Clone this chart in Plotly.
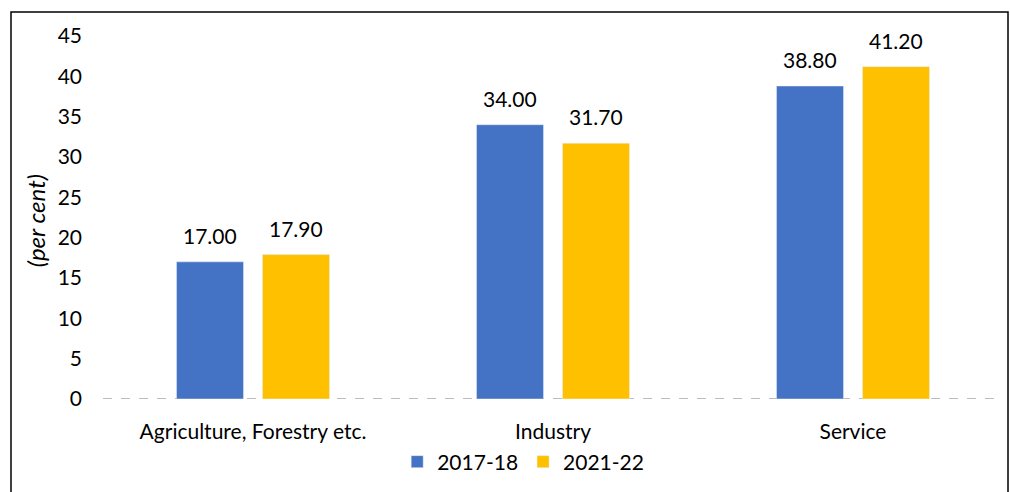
import plotly.graph_objects as go

categories = ["Agriculture, Forestry etc.", "Industry", "Service"]
series_names = ["2017-18", "2021-22"]
values_2017 = [17.00, 34.00, 38.80]
values_2021 = [17.90, 31.70, 41.20]
y_ticks = [0, 5, 10, 15, 20, 25, 30, 35, 40, 45]

colors = ["#4472C4", "#FFC000"]
FONT = "Lato"
FS = 21

W, H = 1010, 492
L, R, T, B = 103, 7, 36, 93

fig = go.Figure()
annotations = []
for i, (name, vals, col) in enumerate(zip(series_names, [values_2017, values_2021], colors)):
    fig.add_trace(go.Bar(
        x=categories, y=vals, name=name, marker_color=col,
    ))
    shift = -43 if i == 0 else 43
    for c, v in zip(categories, vals):
        annotations.append(dict(
            x=c, y=v, xref="x", yref="y", text=f"{v:.2f}", showarrow=False,
            xshift=shift, yshift=12, yanchor="bottom", xanchor="center",
            font=dict(family=FONT, size=FS, color="#000000"),
        ))

annotations.append(dict(
    text="<i>(per cent)</i>", xref="paper", yref="paper", x=0, y=0.49,
    xshift=-68, textangle=-90, showarrow=False,
    font=dict(family=FONT, size=24), xanchor="center", yanchor="middle"))

fig.update_layout(
    width=W, height=H,
    margin=dict(l=L, r=R, t=T, b=B, autoexpand=False),
    paper_bgcolor="white", plot_bgcolor="white",
    barmode="group", bargap=0.4267, bargroupgap=0.221,
    font=dict(family=FONT, size=FS, color="#000000"),
    showlegend=True,
    legend=dict(orientation="h", xref="container", yref="container",
                x=0.518, xanchor="center", y=0.061, yanchor="middle",
                bgcolor="rgba(0,0,0,0)",
                font=dict(family=FONT, size=FS), itemwidth=30,
                traceorder="normal"),
    xaxis=dict(showgrid=False, showline=False, zeroline=False,
               ticks="", ticklabelstandoff=18, automargin=False,
               tickfont=dict(family=FONT, size=FS)),
    yaxis=dict(range=[0, 45], tickvals=y_ticks, showgrid=False,
               showline=False, zeroline=False, ticks="", automargin=False,
               ticklabelstandoff=20, tickfont=dict(family=FONT, size=FS)),
    shapes=[
        dict(type="line", xref="paper", yref="y", x0=0, x1=1, y0=0, y1=0,
             line=dict(color="#A6A6A6", width=1.5, dash="dash"), layer="below"),
        dict(type="rect", xref="paper", yref="paper",
             x0=(11 - L) / (W - L - R), x1=(1008 - L) / (W - L - R),
             y0=(H - B - 500) / (H - T - B), y1=(H - B - 12) / (H - T - B),
             line=dict(color="#000000", width=1.5), fillcolor="rgba(0,0,0,0)"),
    ],
    annotations=annotations,
)

fig.write_html("out.html")
